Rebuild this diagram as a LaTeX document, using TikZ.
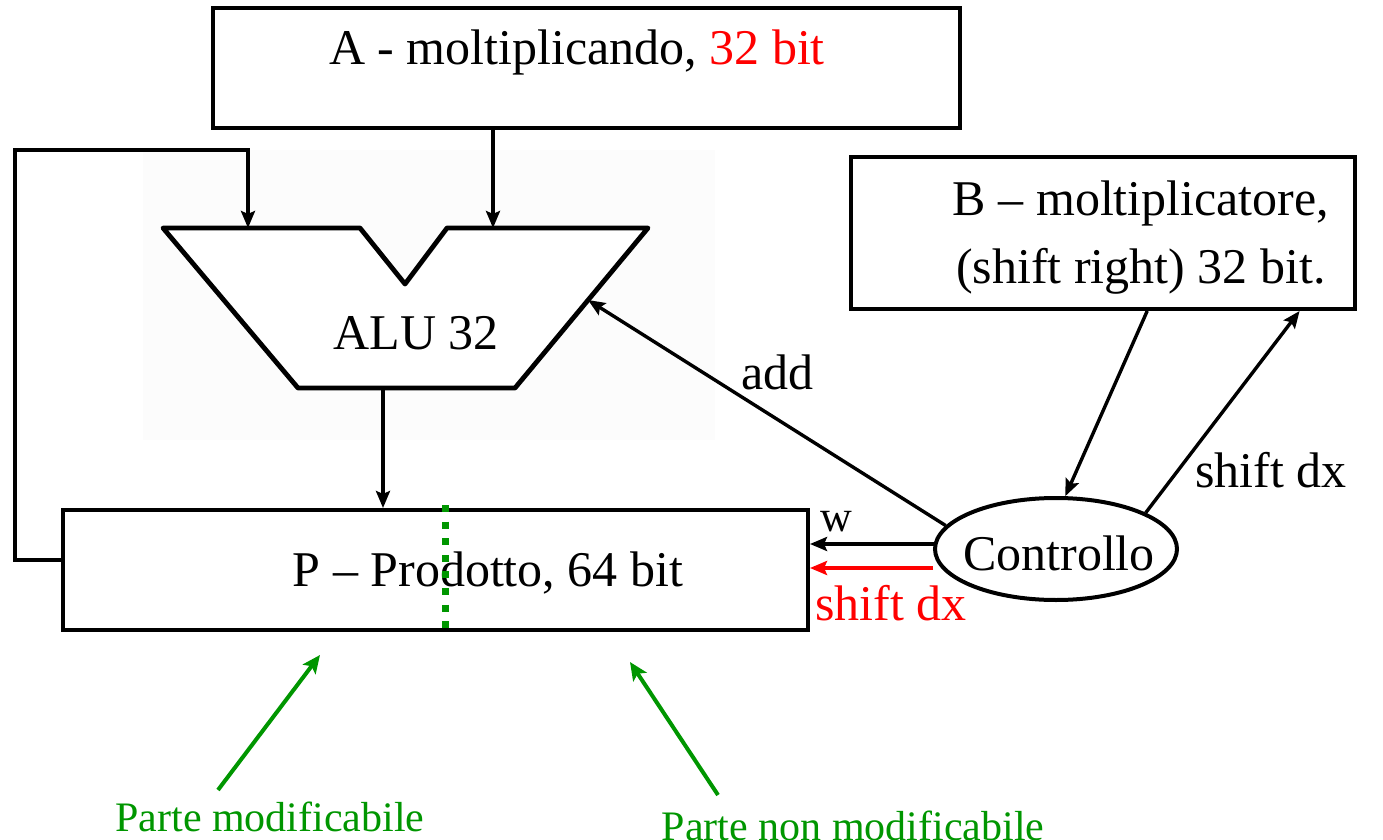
\documentclass[tikz,border=0pt]{standalone}
\usepackage{fontspec}
\setmainfont{Liberation Serif}
\usetikzlibrary{arrows.meta,shapes.geometric,calc}
\definecolor{okgreen}{RGB}{0,150,0}
\begin{document}
\begin{tikzpicture}[x=0.5pt,y=-0.5pt,
  every node/.style={font=\fontsize{25}{30}\selectfont, inner sep=0pt},
  regbox/.style={draw, line width=2pt, minimum width=#1, minimum height=60pt},
  wire/.style={line width=1.7pt},
  arr/.style={wire, -{Stealth[length=8.5pt,width=7pt,inset=1.5pt]}},
  garr/.style={line width=2pt, draw=okgreen, -{Stealth[length=9pt,width=8pt,inset=2pt]}},
  gtext/.style={text=okgreen, font=\fontsize{21}{25}\selectfont}]
\useasboundingbox (0,0) rectangle (1383,840);

% light panel behind the ALU
\fill[black!1] (143,150) rectangle (715,440);

% registers
\node[regbox=373.5pt] (A) at (586.5,68) {};
\node at (577,52) {A - moltiplicando, \textcolor{red}{32 bit}};
\node[regbox=372.5pt] (P) at (435.5,570) {};
\node (Ptext) at (488,573) {P -- Prodotto, 64 bit};
\node[regbox=252pt, minimum height=76pt] (B) at (1103,233) {};
\node[align=center] (Btext) at (1141,238) {B -- moltiplicatore,\\[4pt](shift right) 32 bit.};

% ALU
\coordinate (alu-in1) at (248,228);
\coordinate (alu-in2) at (493,228);
\coordinate (alu-out) at (383,388);
\coordinate (alu-ctl) at (588,300);
\draw[line width=2.4pt, line join=round, fill=white]
  (163,228) -- (360,228) -- (405,284) -- (447,228) -- (648,228)
  -- (515,388) -- (298,388) -- cycle;
\node (alu) at (416,333) {ALU 32};

% control unit
\node[draw, ellipse, line width=2pt, minimum width=121pt, minimum height=51pt]
  (ctl) at (1056,549) {};
\node (ctltext) at (1059,553) {Controllo};

% data paths
\draw[arr] (A.south -| alu-in2) -- (alu-in2);
\coordinate (fb) at (63,560);
\draw[arr] (fb) -- (15,560) -- (15,150) -- (248,150) -- (alu-in1);
\draw[arr] (alu-out) -- (alu-out |- P.north);

% control signals
\draw[arr] (ctl.168) -- (alu-ctl) node[pos=0.47, above=14pt] {add};
\draw[arr] ($(B.south west)!0.587!(B.south east)$) -- (ctl.80);
\draw[arr] (ctl.22) -- ($(B.south west)!0.887!(B.south east)$);
\node (sdx) at (1271,470) {shift dx};
\coordinate (w-src) at (935,544);
\draw[arr] (w-src) -- (w-src -| P.east);
\node[font=\fontsize{22}{26}\selectfont] (wl) at (836,522) {w};
\coordinate (red-src) at (933,568);
\draw[arr, draw=red] (red-src) -- (red-src -| P.east);
\node[text=red] (rsdx) at (891,603) {shift dx};

% split of the product register
\draw[draw=okgreen, line width=3.5pt, dash pattern=on 3.5pt off 4.8pt]
  (445,505) -- (445,630);

% annotations
\coordinate (g1s) at (218,790);
\coordinate (g1e) at (320,655);
\coordinate (g2s) at (718,795);
\coordinate (g2e) at (630,662);
\draw[garr] (g1s) -- (g1e);
\draw[garr] (g2s) -- (g2e);
\node[gtext] (mod) at (270,817) {Parte modificabile};
\node[gtext] (nonmod) at (853,826) {Parte non modificabile};
\end{tikzpicture}
\end{document}
